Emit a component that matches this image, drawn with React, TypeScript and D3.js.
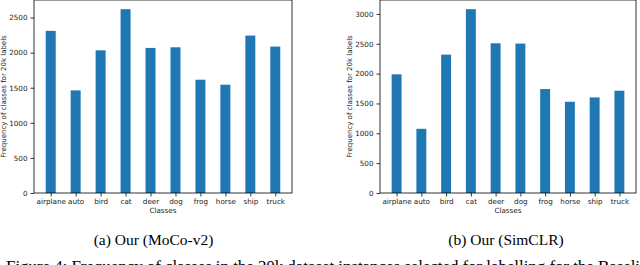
import React, { useRef, useEffect } from 'react';
import * as d3 from 'd3';

const classes = ['airplane', 'auto', 'bird', 'cat', 'deer', 'dog', 'frog', 'horse', 'ship', 'truck'];
const mocoCounts = [2310, 1462, 2033, 2619, 2067, 2076, 1614, 1543, 2243, 2086];
const simclrCounts = [1988, 1075, 2318, 3079, 2508, 2503, 1741, 1528, 1601, 1713];
const mocoTicks = [0, 500, 1000, 1500, 2000, 2500];
const simclrTicks = [0, 500, 1000, 1500, 2000, 2500, 3000];
const captions = ['(a) Our (MoCo-v2)', '(b) Our (SimCLR)'];
const figureText =
  'Figure 4: Frequency of classes in the 20k dataset instances selected for labelling for the Baseline';

const W = 640;
const H = 265;
const tickFont = 'DejaVu Sans, sans-serif';
const serif = 'Liberation Serif, Times New Roman, serif';

function drawPanel(svg, values, ticks, x0, x1, ylabelX) {
  const top = 0;
  const bottom = 193;
  const g = svg.append('g');

  const xScale = d3.scaleLinear().domain([-0.67, classes.length - 1 + 0.67]).range([x0, x1]);
  const yScale = d3
    .scaleLinear()
    .domain([0, d3.max(values) * 1.05])
    .range([bottom, top]);

  // bars
  g.selectAll('rect.bar')
    .data(values)
    .join('rect')
    .attr('class', 'bar')
    .attr('x', (d, i) => xScale(i - 0.2))
    .attr('width', xScale(0.4) - xScale(0))
    .attr('y', (d) => yScale(d))
    .attr('height', (d) => yScale(0) - yScale(d))
    .attr('fill', '#1f77b4');

  // axes
  const yAxis = d3.axisLeft(yScale).tickValues(ticks).tickSize(3.5).tickPadding(3).tickFormat(d3.format('d'));
  const ya = g.append('g').attr('transform', `translate(${x0},0)`).call(yAxis);
  const xAxis = d3
    .axisBottom(xScale)
    .tickValues(d3.range(classes.length))
    .tickSize(3.5)
    .tickPadding(2.5)
    .tickFormat((d) => classes[d]);
  const xa = g.append('g').attr('transform', `translate(0,${bottom})`).call(xAxis);

  [ya, xa].forEach((a) => {
    a.select('.domain').remove();
    a.selectAll('line').attr('stroke', '#000').attr('stroke-width', 0.8);
    a.selectAll('text').attr('font-family', tickFont).attr('font-size', 7.2).attr('fill', '#222');
  });

  // frame
  g.append('rect')
    .attr('x', x0)
    .attr('y', top)
    .attr('width', x1 - x0)
    .attr('height', bottom - top)
    .attr('fill', 'none')
    .attr('stroke', '#000')
    .attr('stroke-width', 0.8);

  // labels
  g.append('text')
    .attr('x', (x0 + x1) / 2)
    .attr('y', 212.5)
    .attr('text-anchor', 'middle')
    .attr('font-family', tickFont)
    .attr('font-size', 7.2)
    .attr('fill', '#222')
    .text('Classes');

  g.append('text')
    .attr('transform', `translate(${ylabelX},${(top + bottom) / 2}) rotate(-90)`)
    .attr('text-anchor', 'middle')
    .attr('font-family', tickFont)
    .attr('font-size', 7)
    .attr('fill', '#222')
    .text('Frequency of classes for 20k labels');
}

export default function App() {
  const svgRef = useRef();

  useEffect(() => {
    const svg = d3.select(svgRef.current);
    svg.selectAll('*').remove();
    svg.append('rect').attr('width', W).attr('height', H).attr('fill', '#fff');

    drawPanel(svg, mocoCounts, mocoTicks, 34, 292, 6);
    drawPanel(svg, simclrCounts, simclrTicks, 380, 636, 352);

    // captions
    svg
      .selectAll('text.cap')
      .data(captions)
      .join('text')
      .attr('class', 'cap')
      .attr('x', (d, i) => (i === 0 ? 153.5 : 506))
      .attr('y', 245)
      .attr('text-anchor', 'middle')
      .attr('font-family', serif)
      .attr('font-size', 15.5)
      .attr('fill', '#000')
      .text((d) => d);

    // figure caption, justified and cut by the bottom edge like the source page
    svg
      .append('text')
      .attr('x', 6)
      .attr('y', 272)
      .attr('font-family', serif)
      .attr('font-size', 17)
      .attr('fill', '#000')
      .attr('textLength', 650)
      .attr('lengthAdjust', 'spacing')
      .text(figureText);
  }, []);

  return (
    <svg
      ref={svgRef}
      width={W}
      height={H}
      style={{ position: 'absolute', left: 0, top: 0, display: 'block' }}
    ></svg>
  );
}
